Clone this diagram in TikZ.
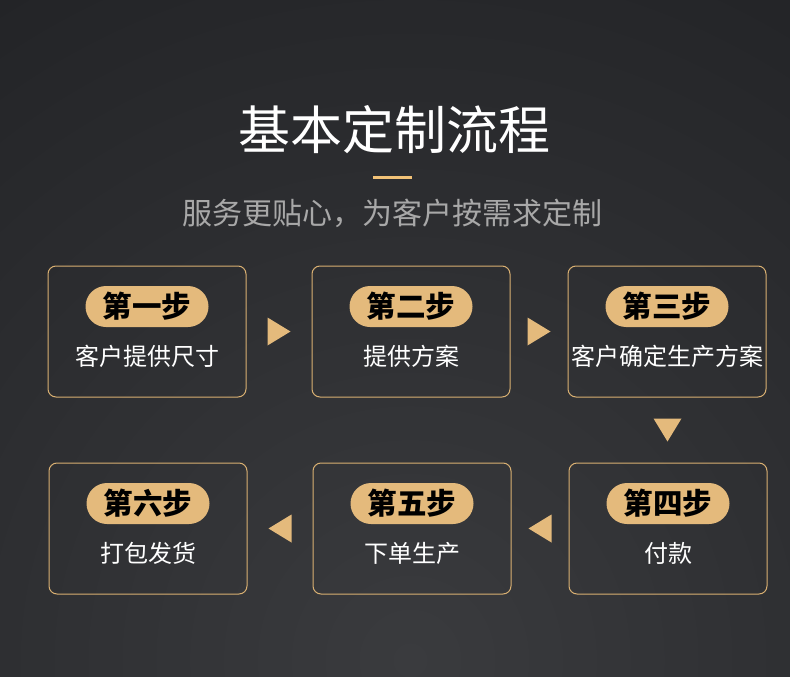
\documentclass[tikz,border=0pt]{standalone}
\usepackage{fontspec}
\setmainfont{Noto Sans CJK SC}
\usetikzlibrary{calc}
\definecolor{bgin}{HTML}{3A3B3E}
\definecolor{bgout}{HTML}{1B1C1F}
\definecolor{gold}{HTML}{E4BA7C}
\definecolor{goldline}{HTML}{F2C277}
\definecolor{goldborder}{HTML}{D9B072}
\definecolor{subgray}{HTML}{A8A8A8}
\tikzset{
  stepbox/.style={draw=goldborder, line width=1pt, rounded corners=8pt,
    minimum width=198pt, minimum height=131pt, inner sep=0pt},
  pill/.style={fill=gold, rounded corners=20.5pt, minimum width=123pt,
    minimum height=41pt, inner sep=0pt, font=\fontsize{29.5}{31}\selectfont\bfseries, text=black},
  steptext/.style={text=white, font=\fontsize{24}{26}\selectfont, inner sep=0pt},
  tri/.style={fill=gold, draw=none}
}
\begin{document}
\begin{tikzpicture}[x=1pt,y=-1pt]
\useasboundingbox (0,0) rectangle (790,677);
\fill[bgout] (0,0) rectangle (790,677);
\begin{scope}
\clip (0,0) rectangle (790,677);
\shade[inner color=bgin, outer color=bgout] (410,660) circle (1050);
\end{scope}

\node[text=white, font=\fontsize{52}{56}\selectfont, inner sep=0pt] (title) at (394,130) {基本定制流程};
\coordinate (ls) at (373,177);
\coordinate (le) at (412,177);
\draw[goldline, line width=3pt] (ls) -- (le);
\node[text=subgray, font=\fontsize{30}{32}\selectfont, inner sep=0pt] (sub) at (392,213) {服务更贴心，为客户按需求定制};

% row 1
\node[stepbox] (b1) at (147,331.5) {};
\node[stepbox] (b2) at (411,331.5) {};
\node[stepbox] (b3) at (667,331.5) {};
% row 2
\node[stepbox] (b6) at (148,528.5) {};
\node[stepbox] (b5) at (412,528.5) {};
\node[stepbox] (b4) at (668,528.5) {};

\foreach \b/\s/\t in {b1/第一步/客户提供尺寸, b2/第二步/提供方案, b3/第三步/客户确定生产方案,
                      b4/第四步/付款, b5/第五步/下单生产, b6/第六步/打包发货}{
  \node[pill] (\b p) at ($(\b.center)+(0,-25)$) {\s};
  \node[steptext] (\b t) at ($(\b.center)+(0,25)$) {\t};
}

% arrows
\coordinate (a12) at ($(b1.east)!0.5!(b2.west)$);
\coordinate (a23) at ($(b2.east)!0.5!(b3.west)$);
\coordinate (a34) at ($(b3.south)!0.5!(b4.north)$);
\coordinate (a45) at ($(b4.west)!0.5!(b5.east)$);
\coordinate (a56) at ($(b5.west)!0.5!(b6.east)$);
\fill[tri] ($(a12)+(-11.5,-14)$) -- ($(a12)+(11.5,0)$) -- ($(a12)+(-11.5,14)$) -- cycle;
\fill[tri] ($(a23)+(-11.5,-14)$) -- ($(a23)+(11.5,0)$) -- ($(a23)+(-11.5,14)$) -- cycle;
\fill[tri] ($(a34)+(-14,-11.5)$) -- ($(a34)+(14,-11.5)$) -- ($(a34)+(0,11.5)$) -- cycle;
\fill[tri] ($(a45)+(11.5,-14)$) -- ($(a45)+(-11.5,0)$) -- ($(a45)+(11.5,14)$) -- cycle;
\fill[tri] ($(a56)+(11.5,-14)$) -- ($(a56)+(-11.5,0)$) -- ($(a56)+(11.5,14)$) -- cycle;
\end{tikzpicture}
\end{document}
